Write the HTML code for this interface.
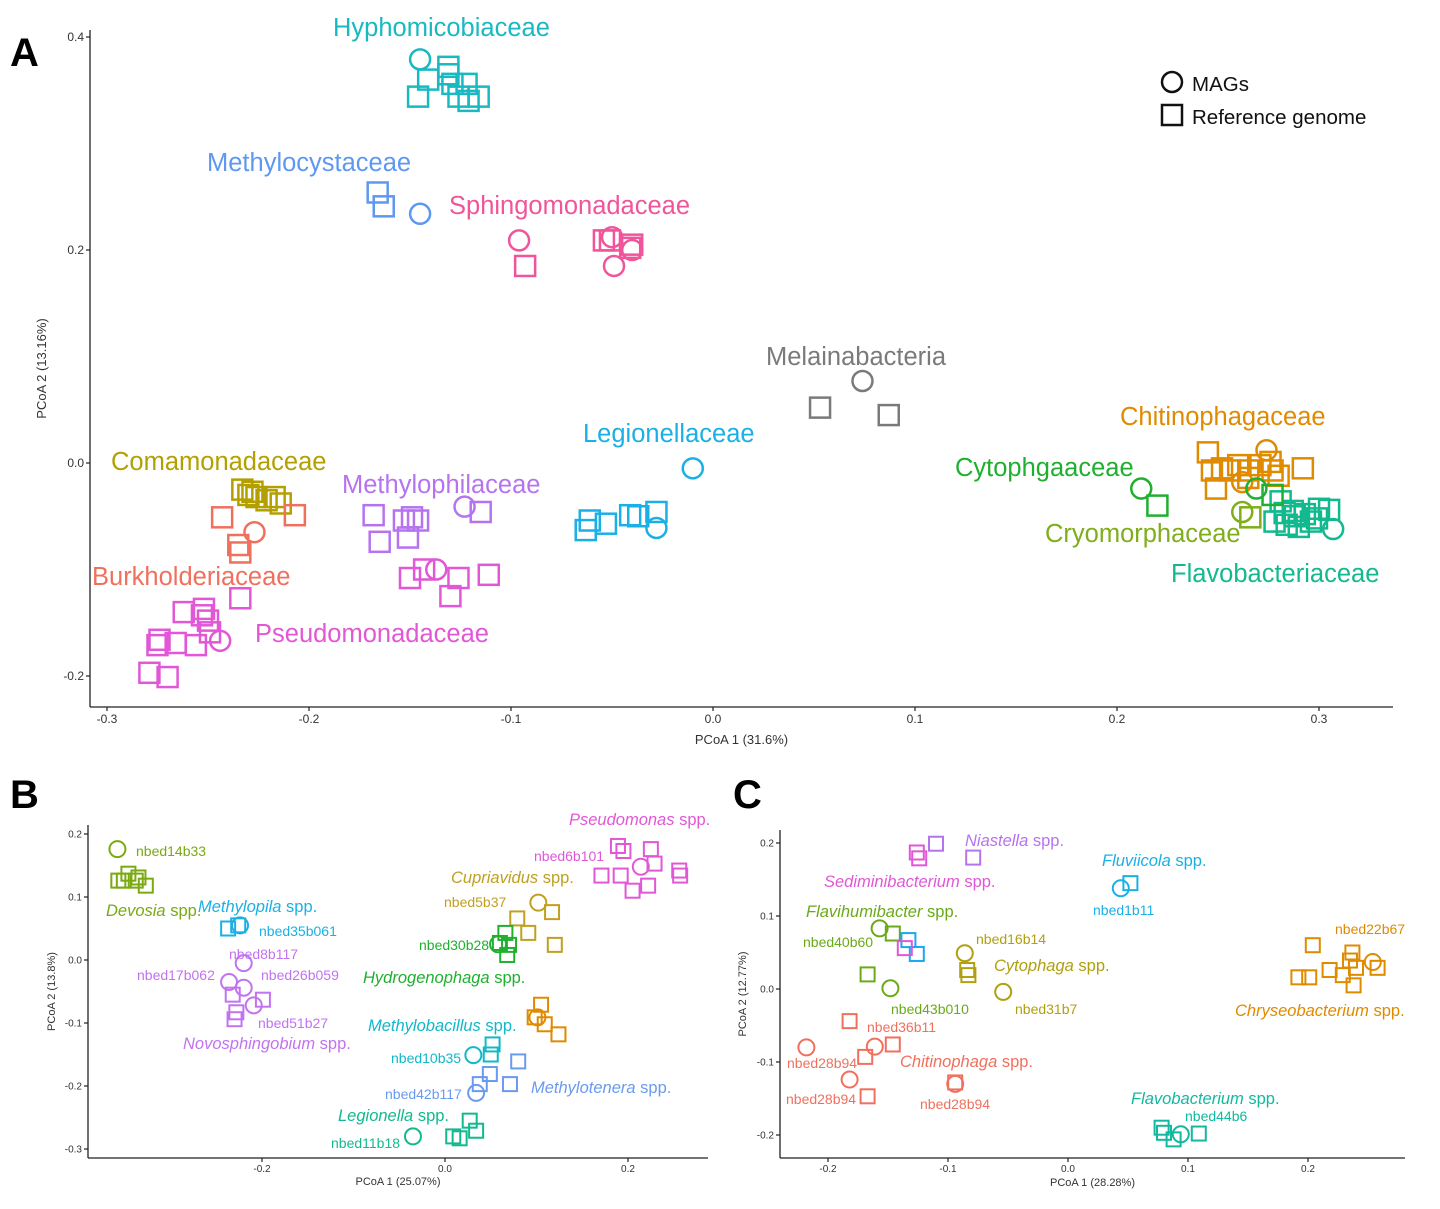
<!DOCTYPE html>
<html><head><meta charset="utf-8"><title>PCoA plots</title>
<style>
html,body{margin:0;padding:0;background:#fff;}
svg{display:block;font-family:"Liberation Sans",sans-serif;}
</style></head>
<body>
<svg id="fig" width="1440" height="1209" viewBox="0 0 1440 1209" xmlns="http://www.w3.org/2000/svg">
<g font-weight="bold" font-size="40" fill="#000">
<text x="10" y="66">A</text>
<text x="10" y="808">B</text>
<text x="733" y="808">C</text>
</g>
<g font-size="20.5" fill="#111">
<circle cx="1172" cy="82" r="10" fill="none" stroke="#111" stroke-width="2.5"/>
<text x="1192" y="91">MAGs</text>
<rect x="1162" y="105" width="20" height="20" fill="none" stroke="#111" stroke-width="2.5"/>
<text x="1192" y="124">Reference genome</text>
</g>
<g id="layer"></g>
</svg>
<script>
// ---------- Panel A data ----------
const aXTicks = [-0.3,-0.2,-0.1,0.0,0.1,0.2,0.3];
const aYTicks = [0.4,0.2,0.0,-0.2];
const aHyphoC = [[-0.145,0.379]];
const aHyphoS = [[-0.141,0.360],[-0.131,0.372],[-0.146,0.344],[-0.129,0.356],[-0.122,0.356],[-0.126,0.344],[-0.116,0.344],[-0.121,0.340],[-0.131,0.365]];
const aMcystS = [[-0.166,0.254],[-0.163,0.241]];
const aMcystC = [[-0.145,0.234]];
const aSphingC = [[-0.096,0.209],[-0.050,0.212],[-0.049,0.185],[-0.040,0.200]];
const aSphingS = [[-0.093,0.185],[-0.054,0.209],[-0.051,0.209],[-0.041,0.202],[-0.040,0.205]];
const aMelC = [[0.074,0.077]];
const aMelS = [[0.053,0.052],[0.087,0.045]];
const aLegC = [[-0.010,-0.005],[-0.028,-0.061]];
const aLegS = [[-0.063,-0.063],[-0.061,-0.054],[-0.053,-0.057],[-0.041,-0.049],[-0.037,-0.050],[-0.028,-0.046]];
const aComaS = [[-0.233,-0.025],[-0.230,-0.030],[-0.228,-0.027],[-0.226,-0.032],[-0.221,-0.035],[-0.217,-0.032],[-0.214,-0.038]];
const aBurkS = [[-0.243,-0.051],[-0.207,-0.049],[-0.235,-0.077],[-0.234,-0.084]];
const aBurkC = [[-0.227,-0.065]];
const aMphilS = [[-0.168,-0.049],[-0.165,-0.074],[-0.151,-0.070],[-0.153,-0.054],[-0.149,-0.051],[-0.146,-0.054],[-0.115,-0.046]];
const aMphilC = [[-0.123,-0.041]];
const aPseuS = [[-0.150,-0.108],[-0.143,-0.100],[-0.130,-0.125],[-0.126,-0.108],[-0.111,-0.105],[-0.262,-0.140],[-0.252,-0.137],[-0.250,-0.148],[-0.234,-0.127],[-0.274,-0.166],[-0.275,-0.171],[-0.266,-0.169],[-0.256,-0.171],[-0.249,-0.159],[-0.279,-0.197],[-0.270,-0.201],[-0.253,-0.143]];
const aPseuC = [[-0.137,-0.100],[-0.244,-0.167]];
const aChitS = [[0.245,0.010],[0.247,-0.007],[0.249,-0.024],[0.260,-0.002],[0.265,-0.007],[0.271,-0.002],[0.277,-0.007],[0.292,-0.005],[0.256,-0.007],[0.276,0.001],[0.265,-0.014],[0.252,-0.005],[0.280,-0.012]];
const aChitC = [[0.274,0.012],[0.262,-0.018]];
const aCytoC = [[0.212,-0.024],[0.269,-0.024]];
const aCytoS = [[0.220,-0.040],[0.277,-0.030]];
const aCryoC = [[0.262,-0.046]];
const aCryoS = [[0.266,-0.051]];
const aFlavS = [[0.281,-0.036],[0.287,-0.045],[0.293,-0.048],[0.300,-0.043],[0.305,-0.044],[0.278,-0.055],[0.284,-0.058],[0.290,-0.060],[0.296,-0.055],[0.288,-0.050],[0.283,-0.047],[0.299,-0.052]];
const aFlavC = [[0.307,-0.062]];

// ---------- Panel B data ----------
const bXTicks = [-0.2,0.0,0.2];
const bYTicks = [0.2,0.1,0.0,-0.1,-0.2,-0.3];
const bDevC = [[-0.358,0.176]];
const bDevS = [[-0.357,0.126],[-0.346,0.137],[-0.335,0.131],[-0.327,0.118],[-0.351,0.126],[-0.338,0.126]];
const bMopS = [[-0.237,0.050],[-0.226,0.055]];
const bMopC = [[-0.224,0.055]];
const bNovC = [[-0.220,-0.005],[-0.236,-0.035],[-0.220,-0.044],[-0.209,-0.072]];
const bNovS = [[-0.232,-0.055],[-0.199,-0.063],[-0.228,-0.083],[-0.230,-0.094]];
const bPseS = [[0.189,0.181],[0.195,0.173],[0.225,0.176],[0.229,0.153],[0.171,0.134],[0.192,0.134],[0.222,0.118],[0.205,0.110],[0.256,0.142],[0.257,0.134]];
const bPseC = [[0.214,0.148]];
const bCupC = [[0.102,0.091]];
const bCupS = [[0.117,0.076],[0.079,0.066],[0.091,0.043],[0.120,0.024]];
const bHydS = [[0.066,0.043],[0.070,0.024],[0.068,0.008],[0.060,0.027]];
const bHydC = [[0.058,0.025]];
const bMbaS = [[0.105,-0.071],[0.098,-0.091],[0.109,-0.102],[0.124,-0.118]];
const bMbaC = [[0.101,-0.091]];
const bMtnS = [[0.080,-0.161],[0.049,-0.181],[0.071,-0.197],[0.038,-0.197]];
const bMtnC = [[0.034,-0.211]];
const bTealC = [[0.031,-0.151]];
const bTealS = [[0.052,-0.134],[0.050,-0.150]];
const bLegS = [[0.027,-0.255],[0.034,-0.271],[0.009,-0.280],[0.016,-0.283]];
const bLegC = [[-0.035,-0.280]];

// ---------- Panel C data ----------
const cXTicks = [-0.2,-0.1,0.0,0.1,0.2];
const cYTicks = [0.2,0.1,0.0,-0.1,-0.2];
const cNiaS = [[-0.110,0.199],[-0.079,0.180]];
const cSedS = [[-0.126,0.187],[-0.124,0.179]];
const cFluC = [[0.044,0.138]];
const cFluS = [[0.052,0.145]];
const cFlaC = [[-0.157,0.083],[-0.148,0.001]];
const cFlaS = [[-0.146,0.076],[-0.167,0.020]];
const cBluS = [[-0.133,0.067],[-0.126,0.048]];
const cMagS = [[-0.136,0.056]];
const cCytC = [[-0.086,0.049],[-0.054,-0.004]];
const cCytS = [[-0.084,0.026],[-0.083,0.019]];
const cChrS = [[0.204,0.060],[0.237,0.050],[0.235,0.039],[0.192,0.016],[0.201,0.016],[0.218,0.026],[0.229,0.019],[0.238,0.005],[0.258,0.029],[0.240,0.029]];
const cChrC = [[0.254,0.037]];
const cChiC = [[-0.218,-0.080],[-0.161,-0.079],[-0.182,-0.124],[-0.094,-0.130]];
const cChiS = [[-0.182,-0.044],[-0.169,-0.093],[-0.146,-0.076],[-0.167,-0.147],[-0.094,-0.128]];
const cFvbS = [[0.078,-0.190],[0.080,-0.197],[0.088,-0.206],[0.109,-0.198]];
const cFvbC = [[0.094,-0.199]];

const NS = "http://www.w3.org/2000/svg";
const layer = document.getElementById('layer');
function mk(tag, attrs, parent){const e=document.createElementNS(NS,tag);for(const k in attrs)e.setAttribute(k,attrs[k]);(parent||layer).appendChild(e);return e;}
function lin(d0,d1,p0,p1){return v=>p0+(v-d0)*(p1-p0)/(d1-d0);}

const panels = {
  a:{x:lin(0,0.1,713,915), y:lin(0,0.2,463,250), left:90, right:1393, top:30, bottom:707, sq:20, r:10, sw:2.5, tf:12, xt:aXTicks, yt:aYTicks, xtitle:'PCoA 1 (31.6%)', ytitle:'PCoA 2 (13.16%)', xtitleY:744, ytitleX:46, dec:1},
  b:{x:lin(0,0.2,445,628), y:lin(0,0.1,960,897), left:88, right:708, top:825, bottom:1158, sq:14, r:8, sw:2, tf:10, xt:bXTicks, yt:bYTicks, xtitle:'PCoA 1 (25.07%)', ytitle:'PCoA 2 (13.8%)', xtitleY:1185, ytitleX:55, dec:1},
  c:{x:lin(0,0.1,1068,1188), y:lin(0,0.1,989,916), left:780, right:1405, top:830, bottom:1158, sq:14, r:8, sw:2, tf:10, xt:cXTicks, yt:cYTicks, xtitle:'PCoA 1 (28.28%)', ytitle:'PCoA 2 (12.77%)', xtitleY:1186, ytitleX:746, dec:1}
};

function drawAxes(key){
  const p=panels[key];
  const g=mk('g',{});
  
  
  const yl=mk('line',{x1:p.left,y1:p.top,x2:p.left,y2:p.bottom,stroke:'#222','stroke-width':1.3},g);
  
  
  const xl=mk('line',{x1:p.left,y1:p.bottom,x2:p.right,y2:p.bottom,stroke:'#222','stroke-width':1.3},g);
  
  
  p.xt.forEach(v=>{
    const px=p.x(v);
    mk('line',{x1:px,y1:p.bottom,x2:px,y2:p.bottom+4,stroke:'#222','stroke-width':1.2},g);
    const t=mk('text',{x:px,y:p.bottom+4+p.tf,'font-size':p.tf,'text-anchor':'middle',fill:'#333'},g);
    t.textContent=v.toFixed(p.dec);
    
    
  });
  p.yt.forEach(v=>{
    const py=p.y(v);
    mk('line',{x1:p.left-4,y1:py,x2:p.left,y2:py,stroke:'#222','stroke-width':1.2},g);
    const t=mk('text',{x:p.left-6,y:py+p.tf*0.35,'font-size':p.tf,'text-anchor':'end',fill:'#333'},g);
    t.textContent=v.toFixed(p.dec);
    
    
  });
  const xt=mk('text',{x:(p.left+p.right)/2,y:p.xtitleY,'font-size':p.tf+1,'text-anchor':'middle',fill:'#333'},g);
  xt.textContent=p.xtitle;
  
  
  const cy=(p.top+p.bottom)/2;
  const yt=mk('text',{x:p.ytitleX,y:cy,'font-size':p.tf+1,'text-anchor':'middle',fill:'#333',transform:'rotate(-90 '+p.ytitleX+' '+cy+')'},g);
  yt.textContent=p.ytitle;
  
  
}

function pts(key, arr, shape, color, name){
  const p=panels[key];
  const g=mk('g',{fill:'none',stroke:color,'stroke-width':p.sw});
  
  
  arr.forEach(d=>{
    const cx=p.x(d[0]), cy=p.y(d[1]);
    let e;
    if(shape==='c') e=mk('circle',{cx:cx,cy:cy,r:p.r},g);
    else e=mk('rect',{x:cx-p.sq/2,y:cy-p.sq/2,width:p.sq,height:p.sq},g);
    
    
  });
}

function lbl(x,y,txt,color,size,name,italicPart){
  const t=mk('text',{x:x,y:y,'font-size':size,fill:color});
  if(italicPart){
    const s1=mk('tspan',{'font-style':'italic'},t); s1.textContent=italicPart;
    const s2=mk('tspan',{},t); s2.textContent=txt;
  } else t.textContent=txt;
  
  
}

['a','b','c'].forEach(drawAxes);

const C = {hypho:'#19b9c2', mcyst:'#5e98f0', sphing:'#f0559b', mel:'#7a7a7a', leg:'#1ab0e6', coma:'#b3a000', burk:'#f0705e', mphil:'#b673f0', pseu:'#e157d6', chit:'#e08a00', cyto:'#1fb02f', cryo:'#7fae1a', flav:'#12b98f'};
pts('a',aHyphoS,'s',C.hypho,'hyphomicrobiaceae'); pts('a',aHyphoC,'c',C.hypho,'hyphomicrobiaceae');
pts('a',aMcystS,'s',C.mcyst,'methylocystaceae'); pts('a',aMcystC,'c',C.mcyst,'methylocystaceae');
pts('a',aSphingS,'s',C.sphing,'sphingomonadaceae'); pts('a',aSphingC,'c',C.sphing,'sphingomonadaceae');
pts('a',aMelS,'s',C.mel,'melainabacteria'); pts('a',aMelC,'c',C.mel,'melainabacteria');
pts('a',aLegS,'s',C.leg,'legionellaceae'); pts('a',aLegC,'c',C.leg,'legionellaceae');
pts('a',aComaS,'s',C.coma,'comamonadaceae');
pts('a',aBurkS,'s',C.burk,'burkholderiaceae'); pts('a',aBurkC,'c',C.burk,'burkholderiaceae');
pts('a',aMphilS,'s',C.mphil,'methylophilaceae'); pts('a',aMphilC,'c',C.mphil,'methylophilaceae');
pts('a',aPseuS,'s',C.pseu,'pseudomonadaceae'); pts('a',aPseuC,'c',C.pseu,'pseudomonadaceae');
pts('a',aChitS,'s',C.chit,'chitinophagaceae'); pts('a',aChitC,'c',C.chit,'chitinophagaceae');
pts('a',aFlavS,'s',C.flav,'flavobacteriaceae'); pts('a',aFlavC,'c',C.flav,'flavobacteriaceae');
pts('a',aCytoS,'s',C.cyto,'cytophagaceae'); pts('a',aCytoC,'c',C.cyto,'cytophagaceae');
pts('a',aCryoS,'s',C.cryo,'cryomorphaceae'); pts('a',aCryoC,'c',C.cryo,'cryomorphaceae');

const FA = 25.5;
lbl(333,36,'Hyphomicobiaceae',C.hypho,FA,'label-hyphomicrobiaceae');
lbl(207,171,'Methylocystaceae',C.mcyst,FA,'label-methylocystaceae');
lbl(449,214,'Sphingomonadaceae',C.sphing,FA,'label-sphingomonadaceae');
lbl(766,365,'Melainabacteria',C.mel,FA,'label-melainabacteria');
lbl(583,442,'Legionellaceae',C.leg,FA,'label-legionellaceae');
lbl(1120,425,'Chitinophagaceae',C.chit,FA,'label-chitinophagaceae');
lbl(955,476,'Cytophgaaceae',C.cyto,FA,'label-cytophagaceae');
lbl(111,470,'Comamonadaceae',C.coma,FA,'label-comamonadaceae');
lbl(342,493,'Methylophilaceae',C.mphil,FA,'label-methylophilaceae');
lbl(1045,542,'Cryomorphaceae',C.cryo,FA,'label-cryomorphaceae');
lbl(1171,582,'Flavobacteriaceae',C.flav,FA,'label-flavobacteriaceae');
lbl(92,585,'Burkholderiaceae',C.burk,FA,'label-burkholderiaceae');
lbl(255,642,'Pseudomonadaceae',C.pseu,FA,'label-pseudomonadaceae');

const B = {dev:'#7aaa12', mop:'#1ab0e6', nov:'#c273f0', pse:'#e157d6', cup:'#c0a020', hyd:'#20b030', mba:'#e08a00', mtn:'#6a9af0', teal:'#12b8c8', leg:'#12b98f'};
pts('b',bDevS,'s',B.dev,'devosia'); pts('b',bDevC,'c',B.dev,'devosia');
pts('b',bMopS,'s',B.mop,'methylopila'); pts('b',bMopC,'c',B.mop,'methylopila');
pts('b',bNovS,'s',B.nov,'novosphingobium'); pts('b',bNovC,'c',B.nov,'novosphingobium');
pts('b',bPseS,'s',B.pse,'pseudomonas'); pts('b',bPseC,'c',B.pse,'pseudomonas');
pts('b',bCupS,'s',B.cup,'cupriavidus'); pts('b',bCupC,'c',B.cup,'cupriavidus');
pts('b',bHydS,'s',B.hyd,'hydrogenophaga'); pts('b',bHydC,'c',B.hyd,'hydrogenophaga');
pts('b',bMbaS,'s',B.mba,'methylobacillus'); pts('b',bMbaC,'c',B.mba,'methylobacillus');
pts('b',bMtnS,'s',B.mtn,'methylotenera'); pts('b',bMtnC,'c',B.mtn,'methylotenera');
pts('b',bTealS,'s',B.teal,'teal-group'); pts('b',bTealC,'c',B.teal,'teal-group');
pts('b',bLegS,'s',B.leg,'legionella'); pts('b',bLegC,'c',B.leg,'legionella');

const FS = 16.5, FN = 14;
lbl(136,856,'nbed14b33',B.dev,FN,'label-nbed14b33');
lbl(106,916,' spp.',B.dev,FS,'label-devosia','Devosia');
lbl(198,912,' spp.',B.mop,FS,'label-methylopila','Methylopila');
lbl(259,936,'nbed35b061',B.mop,FN,'label-nbed35b061');
lbl(229,959,'nbed8b117',B.nov,FN,'label-nbed8b117');
lbl(137,980,'nbed17b062',B.nov,FN,'label-nbed17b062');
lbl(261,980,'nbed26b059',B.nov,FN,'label-nbed26b059');
lbl(258,1028,'nbed51b27',B.nov,FN,'label-nbed51b27');
lbl(183,1049,' spp.',B.nov,FS,'label-novosphingobium','Novosphingobium');
lbl(569,825,' spp.',B.pse,FS,'label-pseudomonas','Pseudomonas');
lbl(534,861,'nbed6b101',B.pse,FN,'label-nbed6b101');
lbl(451,883,' spp.',B.cup,FS,'label-cupriavidus','Cupriavidus');
lbl(444,907,'nbed5b37',B.cup,FN,'label-nbed5b37');
lbl(419,950,'nbed30b28',B.hyd,FN,'label-nbed30b28');
lbl(363,983,' spp.',B.hyd,FS,'label-hydrogenophaga','Hydrogenophaga');
lbl(368,1031,' spp.',B.teal,FS,'label-methylobacillus','Methylobacillus');
lbl(391,1063,'nbed10b35',B.teal,FN,'label-nbed10b35');
lbl(531,1093,' spp.',B.mtn,FS,'label-methylotenera','Methylotenera');
lbl(385,1099,'nbed42b117',B.mtn,FN,'label-nbed42b117');
lbl(338,1121,' spp.',B.leg,FS,'label-legionella','Legionella');
lbl(331,1148,'nbed11b18',B.leg,FN,'label-nbed11b18');

const K = {nia:'#b673f0', sed:'#e157d6', flu:'#1ab0e6', fla:'#6aaa18', blu:'#1aa8f0', cyt:'#b0a010', chr:'#e08a00', chi:'#f0705e', fvb:'#12b9a0'};
pts('c',cNiaS,'s',K.nia,'niastella');
pts('c',cSedS,'s',K.sed,'sediminibacterium');
pts('c',cFluS,'s',K.flu,'fluviicola'); pts('c',cFluC,'c',K.flu,'fluviicola');
pts('c',cFlaS,'s',K.fla,'flavihumibacter'); pts('c',cFlaC,'c',K.fla,'flavihumibacter');
pts('c',cBluS,'s',K.blu,'blue-group');
pts('c',cMagS,'s',K.sed,'magenta-group');
pts('c',cCytS,'s',K.cyt,'cytophaga'); pts('c',cCytC,'c',K.cyt,'cytophaga');
pts('c',cChrS,'s',K.chr,'chryseobacterium'); pts('c',cChrC,'c',K.chr,'chryseobacterium');
pts('c',cChiS,'s',K.chi,'chitinophaga'); pts('c',cChiC,'c',K.chi,'chitinophaga');
pts('c',cFvbS,'s',K.fvb,'flavobacterium'); pts('c',cFvbC,'c',K.fvb,'flavobacterium');

lbl(965,846,' spp.',K.nia,FS,'label-niastella','Niastella');
lbl(824,887,' spp.',K.sed,FS,'label-sediminibacterium','Sediminibacterium');
lbl(1102,866,' spp.',K.flu,FS,'label-fluviicola','Fluviicola');
lbl(1093,915,'nbed1b11',K.flu,FN,'label-nbed1b11');
lbl(806,917,' spp.',K.fla,FS,'label-flavihumibacter','Flavihumibacter');
lbl(803,947,'nbed40b60',K.fla,FN,'label-nbed40b60');
lbl(976,944,'nbed16b14',K.cyt,FN,'label-nbed16b14');
lbl(994,971,' spp.',K.cyt,FS,'label-cytophaga','Cytophaga');
lbl(891,1014,'nbed43b010',K.fla,FN,'label-nbed43b010');
lbl(1015,1014,'nbed31b7',K.cyt,FN,'label-nbed31b7');
lbl(1335,934,'nbed22b67',K.chr,FN,'label-nbed22b67');
lbl(1235,1016,' spp.',K.chr,FS,'label-chryseobacterium','Chryseobacterium');
lbl(867,1032,'nbed36b11',K.chi,FN,'label-nbed36b11');
lbl(900,1067,' spp.',K.chi,FS,'label-chitinophaga','Chitinophaga');
lbl(787,1068,'nbed28b94',K.chi,FN,'label-nbed28b94-a');
lbl(786,1104,'nbed28b94',K.chi,FN,'label-nbed28b94-b');
lbl(920,1109,'nbed28b94',K.chi,FN,'label-nbed28b94-c');
lbl(1131,1104,' spp.',K.fvb,FS,'label-flavobacterium','Flavobacterium');
lbl(1185,1121,'nbed44b6',K.fvb,FN,'label-nbed44b6');
</script>
</body></html>
